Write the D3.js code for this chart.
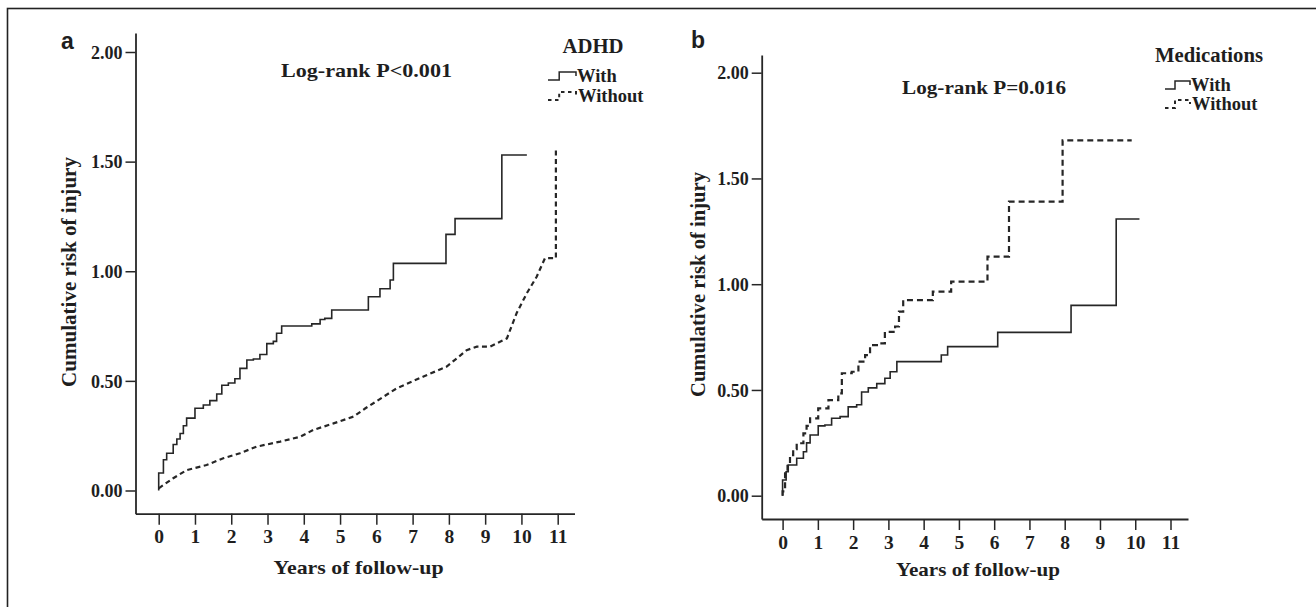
<!DOCTYPE html>
<html>
<head>
<meta charset="utf-8">
<script src="https://cdn.jsdelivr.net/npm/d3@7/dist/d3.min.js"></script>
<style>
  html, body { margin: 0; padding: 0; background: #fff; }
  svg { display: block; }
  text { font-family: "Liberation Serif", "Times New Roman", serif; font-weight: bold; fill: #1e1e1e; }
</style>
</head>
<body>
<svg id="chart" width="1316" height="607"></svg>
<script>
// ---------------- DATA ----------------
const yearTicks = [0, 1, 2, 3, 4, 5, 6, 7, 8, 9, 10, 11];
const riskTicks = [0, 0.5, 1, 1.5, 2];

const panelLetters = ["a", "b"];
const logRankLabels = ["Log-rank P<0.001", "Log-rank P=0.016"];
const legendTitles = ["ADHD", "Medications"];
const seriesNames = ["With", "Without"];
const xTitle = "Years of follow-up";
const yTitle = "Cumulative risk of injury";

// Panel a: ADHD [years, cumulative risk]
const adhdWith = [[0,0],[0,0.08],[0.13,0.14],[0.22,0.17],[0.4,0.21],[0.5,0.235],[0.59,0.26],[0.68,0.295],
  [0.77,0.33],[1.0,0.375],[1.23,0.39],[1.41,0.41],[1.6,0.44],[1.74,0.48],[1.92,0.49],[2.1,0.51],
  [2.24,0.557],[2.43,0.595],[2.61,0.6],[2.79,0.62],[2.98,0.67],[3.16,0.68],[3.25,0.717],[3.39,0.75],
  [4.22,0.76],[4.45,0.78],[4.58,0.785],[4.77,0.823],[5.78,0.884],[6.1,0.92],[6.38,0.96],[6.47,1.036],
  [7.92,1.168],[8.17,1.24],[9.46,1.53],[10.15,1.53]];
const adhdWithout = [[0,0.01],[0.4,0.056],[0.77,0.093],[1.32,0.116],[1.78,0.147],[2.24,0.17],[2.7,0.2],
  [3.35,0.223],[3.9,0.245],[4.26,0.276],[4.82,0.306],[5.37,0.337],[5.7,0.375],[6.56,0.466],[7.3,0.52],
  [7.94,0.565],[8.49,0.64],[8.77,0.656],[9.13,0.656],[9.6,0.694],[9.87,0.81],[10.15,0.9],[10.42,0.975],
  [10.65,1.06],[10.95,1.06],[10.95,1.553]];

// Panel b: Medications [years, cumulative risk]
const medWith = [[0,0],[0,0.074],[0.1,0.113],[0.16,0.145],[0.4,0.177],[0.59,0.208],[0.68,0.25],[0.78,0.287],
  [1.01,0.33],[1.2,0.334],[1.39,0.366],[1.63,0.374],[1.86,0.42],[2.1,0.43],[2.24,0.49],[2.43,0.51],
  [2.67,0.53],[2.9,0.555],[3.05,0.586],[3.24,0.634],[4.5,0.665],[4.68,0.705],[6.1,0.772],[8.18,0.9],
  [9.46,1.308],[10.12,1.308]];
const medWithout = [[0,0],[0,0.02],[0.07,0.106],[0.14,0.15],[0.21,0.192],[0.3,0.22],[0.4,0.248],[0.59,0.295],
  [0.68,0.33],[0.78,0.366],[1.01,0.413],[1.3,0.452],[1.58,0.484],[1.68,0.579],[1.96,0.586],[2.15,0.634],
  [2.34,0.665],[2.48,0.712],[2.76,0.72],[2.9,0.775],[3.19,0.8],[3.3,0.87],[3.42,0.925],[4.26,0.965],
  [4.78,1.012],[5.81,1.13],[6.42,1.39],[7.94,1.68],[9.9,1.68]];

// ---------------- LAYOUT ----------------
const panels = [
  { x0: 135.5, x1: 574.5, xt0: 158.7, xt11: 557.7, yTop: 33, yBot: 513.7, yv0: 490.5, yv2: 52,
    series: [adhdWith, adhdWithout], curves: [d3.curveStepAfter, d3.curveLinear], dash: "5,3.5",
    letter: { x: 61, y: 49 }, logrank: { x: 281, y: 77, w: 171 },
    yTitle: { x: 76, y: 272, w: 230 }, xTitle: { x: 273.6, y: 574, w: 170 },
    legend: { tx: 562.5, ty: 53, tw: 61, sx: 548, sw: 28, y1: 80, y2: 100, textX: 577 } },
  { x0: 761.7, x1: 1188, xt0: 782.6, xt11: 1170.5, yTop: 55, yBot: 519, yv0: 495.7, yv2: 72.7,
    series: [medWith, medWithout], curves: [d3.curveStepAfter, d3.curveStepAfter], dash: "6,4",
    letter: { x: 691, y: 48 }, logrank: { x: 902, y: 94, w: 164 },
    yTitle: { x: 705, y: 284.5, w: 225 }, xTitle: { x: 896, y: 575.5, w: 164 },
    legend: { tx: 1155, ty: 62, tw: 108, sx: 1165, sw: 25, y1: 89, y2: 108, textX: 1191 } }
];

const svg = d3.select("#chart");
const ink = "#262626";

// frame (top and left edges visible)
svg.append("rect").attr("x", 7.5).attr("y", 8.5).attr("width", 1400).attr("height", 700)
  .attr("fill", "none").attr("stroke", "#222").attr("stroke-width", 1.6);

panels.forEach((p, i) => {
  const xs = d3.scaleLinear().domain([0, 11]).range([p.xt0, p.xt11]);
  const ys = d3.scaleLinear().domain([0, 2]).range([p.yv0, p.yv2]);
  const xAxisScale = d3.scaleLinear().domain([xs.invert(p.x0), xs.invert(p.x1)]).range([p.x0, p.x1]);
  const yAxisScale = d3.scaleLinear().domain([ys.invert(p.yBot), ys.invert(p.yTop)]).range([p.yBot, p.yTop]);

  const g = svg.append("g");

  // axes
  const xa = g.append("g").attr("transform", `translate(0,${p.yBot})`)
    .call(d3.axisBottom(xAxisScale).tickValues(yearTicks).tickFormat(d3.format("d")).tickSize(11).tickSizeOuter(0).tickPadding(4));
  const ya = g.append("g").attr("transform", `translate(${p.x0},0)`)
    .call(d3.axisLeft(yAxisScale).tickValues(riskTicks).tickFormat(d3.format(".2f")).tickSize(10).tickSizeOuter(0).tickPadding(3));
  [xa, ya].forEach(a => {
    a.select(".domain").attr("stroke", ink).attr("stroke-width", 1.8);
    a.selectAll(".tick line").attr("stroke", ink).attr("stroke-width", 1.5);
    a.selectAll(".tick text").style("font-family", '"Liberation Serif", serif').style("font-weight", "bold")
      .style("font-size", "19.5px").attr("fill", "#1e1e1e");
  });
  xa.selectAll(".tick text").attr("dy", "0.75em");
  ya.selectAll(".tick text").attr("textLength", 31.5).attr("lengthAdjust", "spacingAndGlyphs");

  // curves
  p.series.forEach((s, k) => {
    const line = d3.line().x(d => xs(d[0])).y(d => ys(d[1])).curve(p.curves[k]);
    g.append("path").datum(s).attr("d", line).attr("fill", "none")
      .attr("stroke", ink).attr("stroke-width", k === 0 ? 1.6 : 2.2)
      .attr("stroke-dasharray", k === 0 ? null : p.dash);
  });

  // panel letter
  g.append("text").attr("x", p.letter.x).attr("y", p.letter.y).text(panelLetters[i])
    .style("font-family", '"Liberation Sans", Arial, sans-serif').style("font-size", "23px").attr("fill", "#111");

  // log-rank label
  g.append("text").attr("x", p.logrank.x).attr("y", p.logrank.y).text(logRankLabels[i])
    .style("font-size", "19.5px").attr("textLength", p.logrank.w).attr("lengthAdjust", "spacingAndGlyphs");

  // axis titles
  g.append("text").attr("transform", `translate(${p.yTitle.x},${p.yTitle.y}) rotate(-90)`)
    .attr("text-anchor", "middle").text(yTitle).style("font-size", "20.5px")
    .attr("textLength", p.yTitle.w).attr("lengthAdjust", "spacingAndGlyphs");
  g.append("text").attr("x", p.xTitle.x).attr("y", p.xTitle.y).text(xTitle).style("font-size", "19.5px")
    .attr("textLength", p.xTitle.w).attr("lengthAdjust", "spacingAndGlyphs");

  // legend
  const L = p.legend;
  g.append("text").attr("x", L.tx).attr("y", L.ty).text(legendTitles[i]).style("font-size", "20px")
    .attr("textLength", L.tw).attr("lengthAdjust", "spacingAndGlyphs");
  [L.y1, L.y2].forEach((yy, k) => {
    const mid = L.sx + L.sw * 0.4;
    g.append("path")
      .attr("d", `M${L.sx},${yy} H${mid} V${yy - 8} H${L.sx + L.sw} V${yy - 4}`)
      .attr("fill", "none").attr("stroke", ink).attr("stroke-width", k === 0 ? 1.5 : 2)
      .attr("stroke-dasharray", k === 0 ? null : "3.5,3.5");
    g.append("text").attr("x", L.textX + (k === 0 ? 0 : 1)).attr("y", yy + 2).text(seriesNames[k])
      .style("font-size", "18.5px");
  });
});
</script>
</body>
</html>
